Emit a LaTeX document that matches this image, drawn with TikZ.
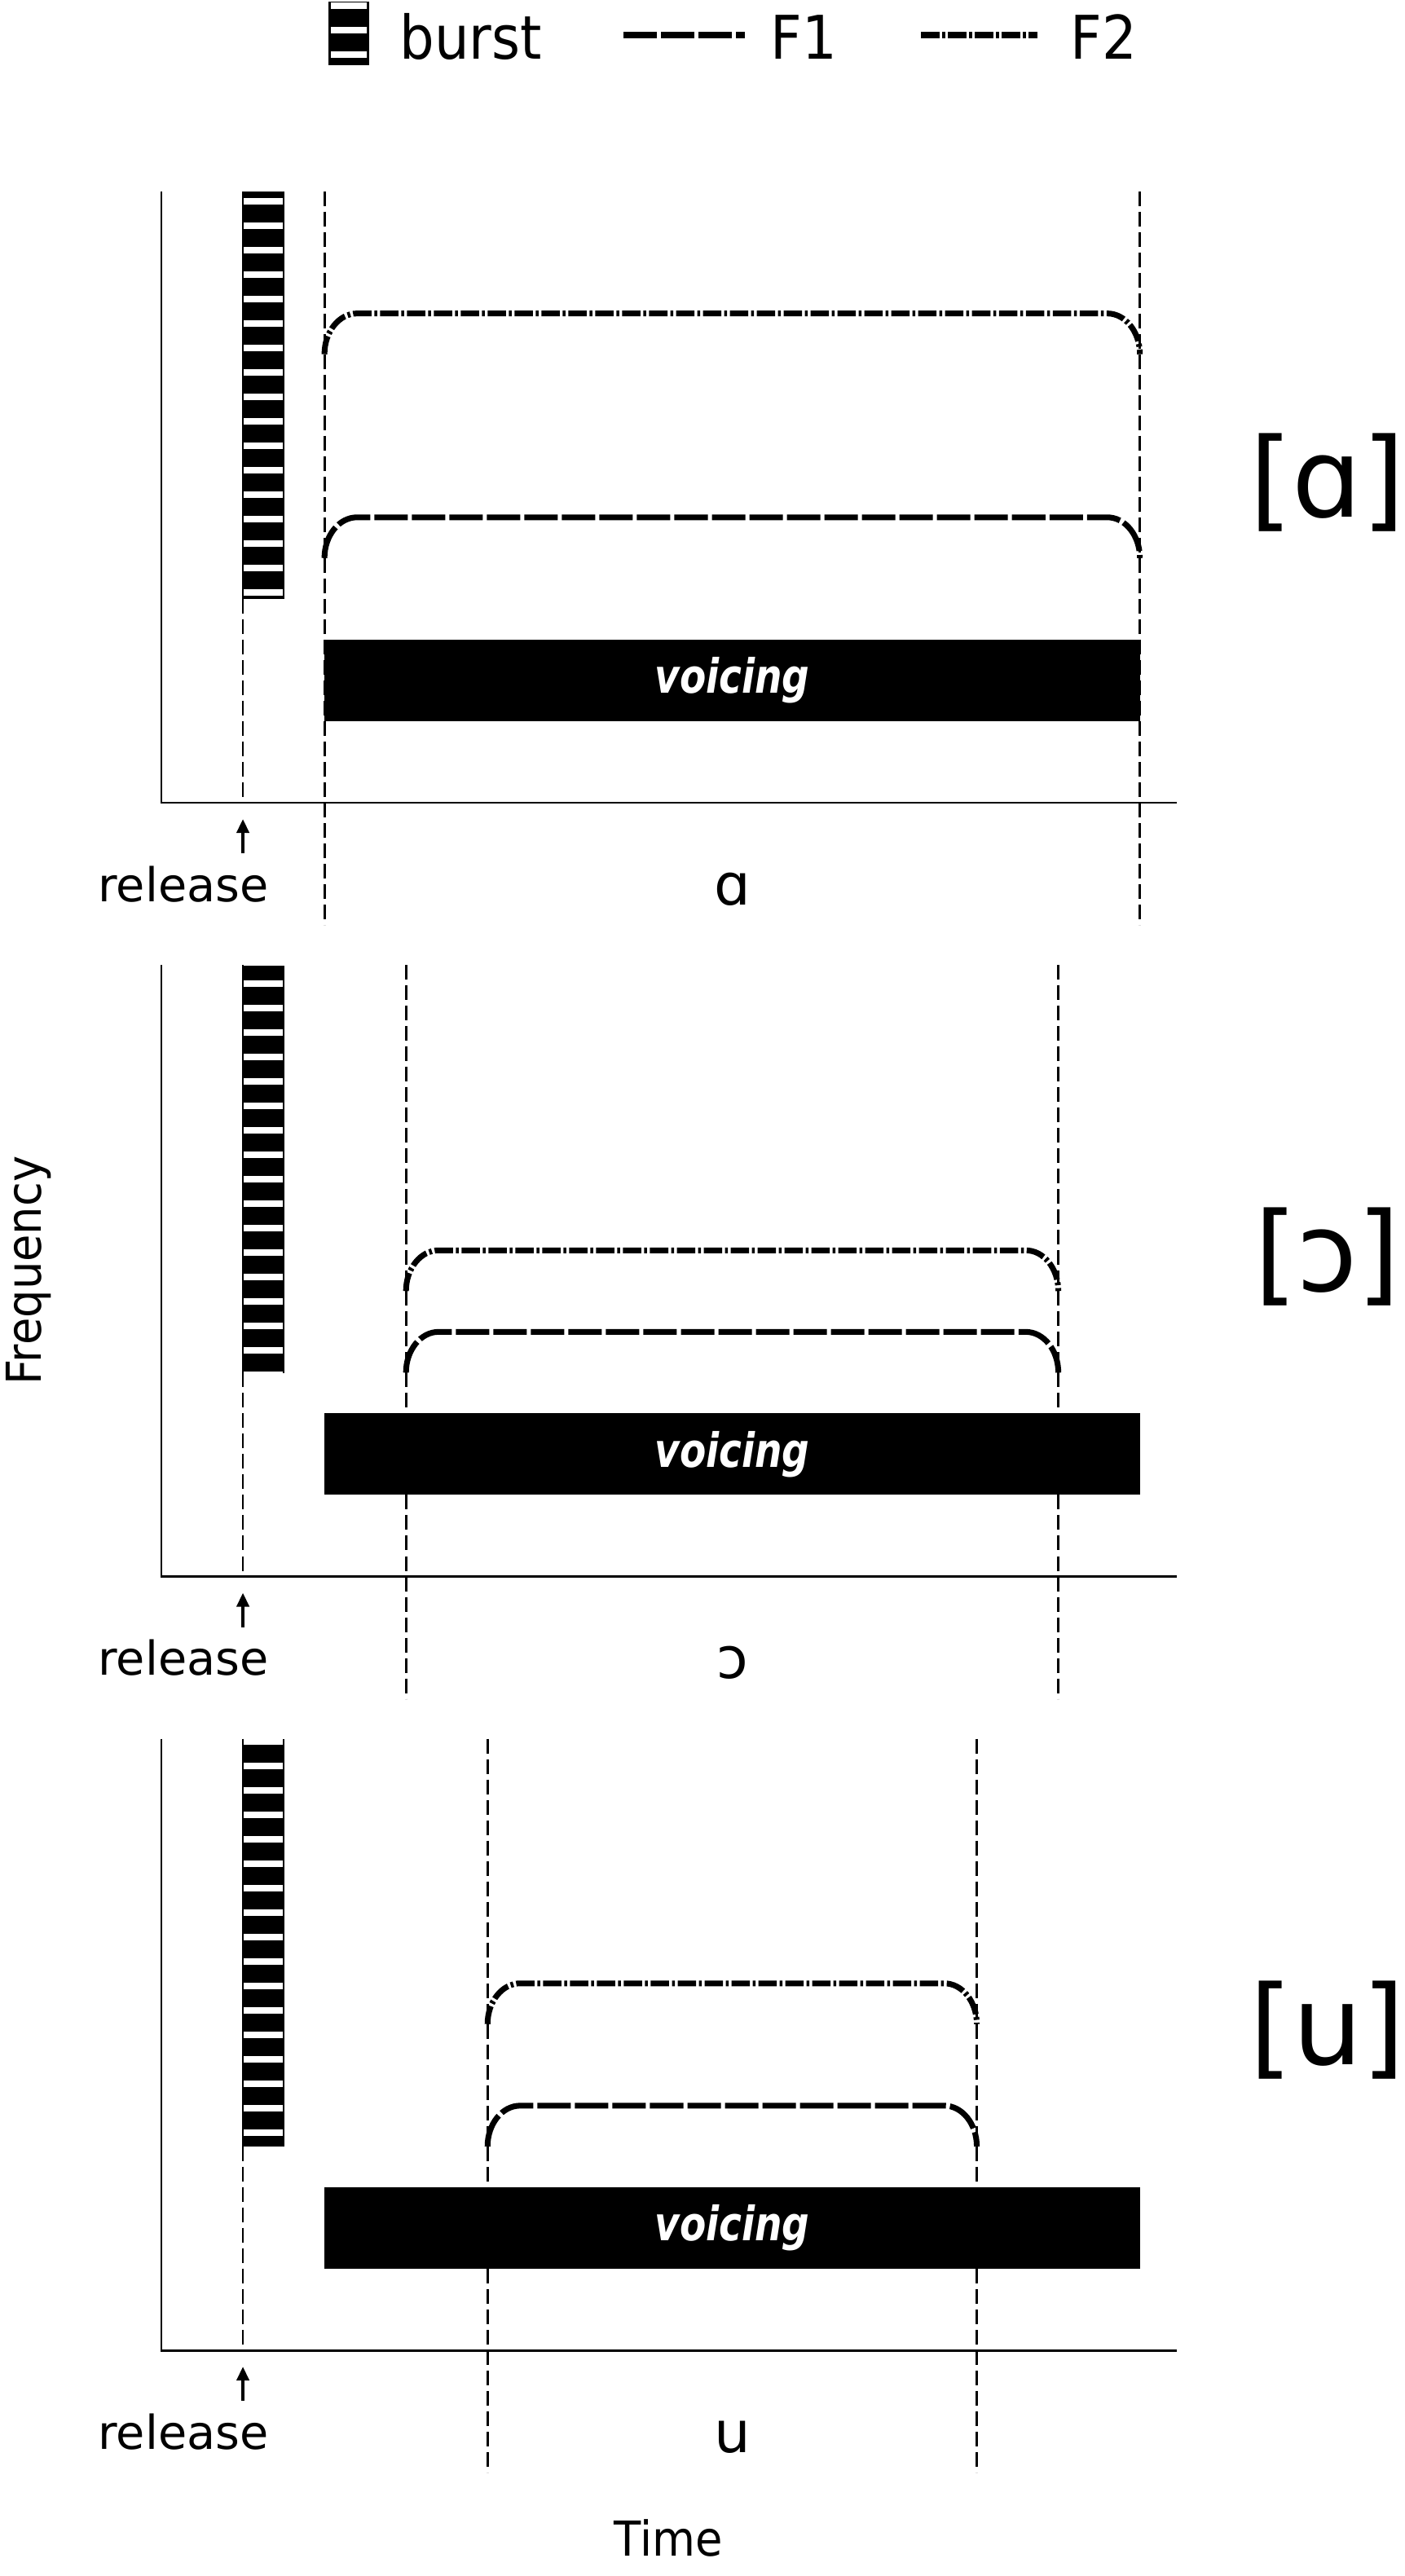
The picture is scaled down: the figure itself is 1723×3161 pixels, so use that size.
\documentclass[tikz,border=0pt]{standalone}
\usepackage{fontspec}
\setmainfont{DejaVu Sans}
\newfontfamily\condA[FakeStretch=0.92]{DejaVu Sans}
\newfontfamily\condL[FakeStretch=0.91]{DejaVu Sans}
\newfontfamily\condV[FakeStretch=0.81]{DejaVu Sans}
\usetikzlibrary{arrows.meta}
\begin{document}
\begin{tikzpicture}[x=0.01cm,y=-0.01cm,
  spine/.style={line width=0.85pt, black, line join=miter},
  vdash/.style={line width=0.8pt, black, dash pattern=on 0.18cm off 0.07cm},
  fone/.style={line width=2pt, black, dash pattern=on 0.41cm off 0.05cm},
  ftwo/.style={line width=2pt, black, dash pattern=on 0.225cm off 0.035cm on 0.035cm off 0.035cm},
  lbl/.style={inner sep=0pt, font=\fontsize{16.3}{19}\selectfont},
  axlbl/.style={inner sep=0pt, font=\condA\fontsize{16.8}{20}\selectfont},
  leglbl/.style={inner sep=0pt, font=\condL\fontsize{21}{24}\selectfont, anchor=base west},
  vowlbl/.style={inner sep=0pt, font=\fontsize{20}{24}\selectfont, anchor=base},
  biglbl/.style={inner sep=0pt, font=\fontsize{38.4}{44}\selectfont, anchor=base},
  voicelbl/.style={inner sep=0pt, text=white, font=\condV\fontsize{16.5}{20}\selectfont\bfseries\itshape},
  arr/.style={line width=1.1pt, -{Triangle[length=0.17cm,width=0.15cm]}}
]
\useasboundingbox (0,0) rectangle (1723,3161);

% ---------- legend ----------
\fill[black] (403,2) rectangle (453,80);
\begin{scope}
  \clip (406,2) rectangle (450,80);
  \foreach \k in {0,1,2} \fill[white] (400,{3+30*\k}) rectangle (460,{11+30*\k});
\end{scope}
\node[leglbl] (legburst) at (490,73) {burst};
\coordinate (lfa) at (765,43);
\coordinate (lfb) at (914,43);
\draw[fone] (lfa) -- (lfb);
\node[leglbl] (legfone) at (945,73) {F1};
\coordinate (lsa) at (1130,43);
\coordinate (lsb) at (1273,43);
\draw[ftwo] (lsa) -- (lsb);
\node[leglbl] (legftwo) at (1313,73) {F2};

% ---------- panels ----------
\foreach \p/\fa/\fb/\ta/\tb/\v in {0/7/12/2/12/ɑ, 1/6/8/3/11/ɔ, 2/6/9/4/10/u}{
  \pgfmathsetmacro\yb{985+949.5*\p}
  \pgfmathsetmacro\btop{\yb-750}
  \pgfmathsetmacro\bbot{\yb-250}
  \begin{scope}[shift={(198,\yb)}, x=1cm, y=0.5cm]
    % dashed guide lines
    \draw[vdash] (1,15) -- (1,0);
    \draw[vdash] (\ta,15) -- (\ta,-3);
    \draw[vdash] (\tb,15) -- (\tb,-3);
    % axes spines
    \draw[spine] (0,15) -- (0,0) -- (12.45,0);
    % voicing bar
    \fill[black] (2,2) rectangle (12,4);
    \node[voicelbl] (voice\p) at (7,3) {voicing};
    % formants
    \draw[ftwo] (\ta,{\fb-1}) .. controls (\ta,{\fb-0.448}) and ({\ta+0.179},\fb) .. ({\ta+0.4},\fb)
      -- ({\tb-0.4},\fb) .. controls ({\tb-0.179},\fb) and (\tb,{\fb-0.448}) .. (\tb,{\fb-1});
    \draw[fone] (\ta,{\fa-1}) .. controls (\ta,{\fa-0.448}) and ({\ta+0.179},\fa) .. ({\ta+0.4},\fa)
      -- ({\tb-0.4},\fa) .. controls ({\tb-0.179},\fa) and (\tb,{\fa-0.448}) .. (\tb,{\fa-1});
    % release arrow and labels
    \coordinate (rs\p) at (1,-1.24);
    \coordinate (rt\p) at (1,-0.4);
    \draw[arr] (rs\p) -- (rt\p);
    \node[lbl, anchor=base] (rel\p) at (0.27,-2.42) {release};
    \node[vowlbl] (vb\p) at (7,-2.5) {\v};
    \node[biglbl] (big\p) at (14.3,7) {[\v]};
  \end{scope}
  % burst bar (global pixel coordinates, stripes fixed to page)
  \fill[black] (297,\btop) rectangle (349,\bbot);
  \begin{scope}
    \clip (299,\btop) rectangle (347,\bbot);
    \foreach \k in {0,...,105} \fill[white] (299,{3+30*\k}) rectangle (347,{11+30*\k});
  \end{scope}
}

% ---------- axis titles ----------
\node[axlbl, rotate=90, anchor=base] (freq) at (50,1559) {Frequency};
\node[axlbl, anchor=base] (time) at (820,3136) {Time};
\end{tikzpicture}
\end{document}
